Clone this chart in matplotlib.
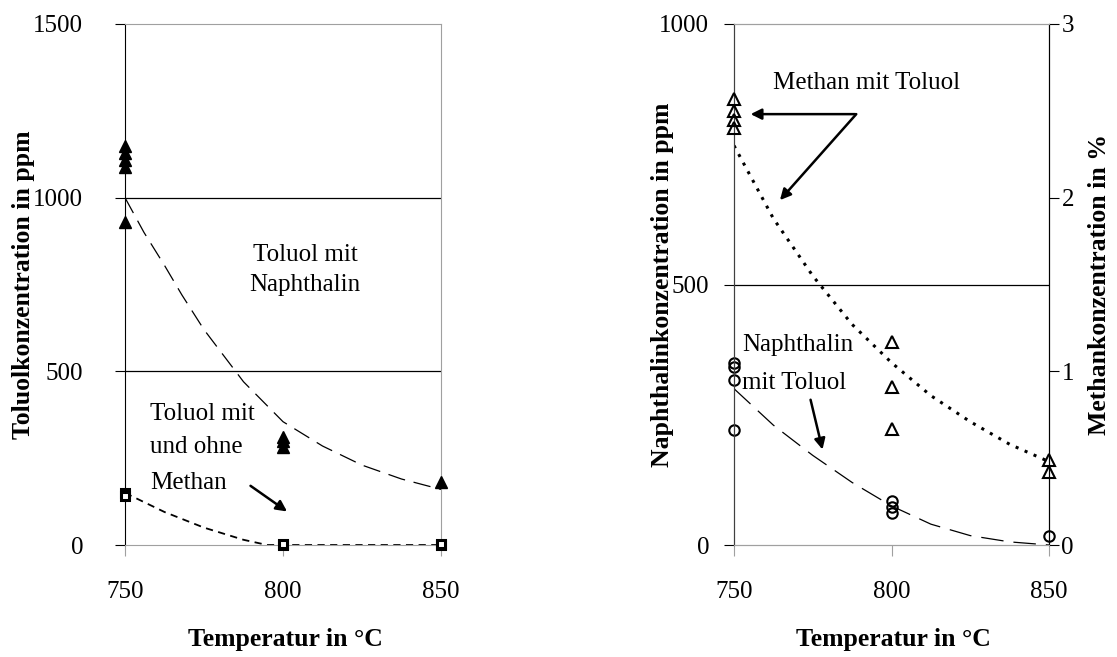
import matplotlib
matplotlib.use("Agg")
import matplotlib.pyplot as plt

plt.rcParams['font.family'] = ['Liberation Serif', 'DejaVu Serif']

# left panel: Toluol
tol_naph_x = [750, 750, 750, 750, 750, 800, 800, 800, 850]
tol_naph_y = [1150, 1130, 1108, 1088, 930, 310, 298, 282, 180]
tol_meth_x = [750, 750, 800, 800, 850, 850]
tol_meth_y = [150, 140, 0, 2, 0, 2]
trend_naph_x = [750, 756, 762.5, 768, 775, 787.5, 800, 812.5, 825, 837.5, 850]
trend_naph_y = [1000, 900, 805, 720, 620, 470, 355, 285, 230, 190, 160]
trend_meth_x = [750, 762.5, 775, 787.5, 795, 800, 825, 850]
trend_meth_y = [150, 95, 50, 15, 0, 0, 0, 0]

# right panel: Naphthalin (ppm) and Methan (%)
naph_x = [750, 750, 750, 750, 800, 800, 800, 850]
naph_y = [349, 342, 317, 221, 85, 72, 62, 18]
meth_x = [750, 750, 750, 750, 800, 800, 800, 850, 850]
meth_y = [2.57, 2.50, 2.45, 2.40, 1.17, 0.91, 0.67, 0.49, 0.42]
trend_n_x = [750, 762.5, 775, 787.5, 800, 812.5, 825, 837.5, 850]
trend_n_y = [300, 230, 172, 120, 75, 40, 18, 6, 0]
trend_m_x = [750, 762.5, 775, 787.5, 800, 812.5, 825, 837.5, 850]
trend_m_y = [2.30, 1.88, 1.55, 1.27, 1.05, 0.86, 0.71, 0.58, 0.48]

xticks = [750, 800, 850]
fs = 18
lfs = 18.5
frame = '#a0a0a0'

fig = plt.figure(figsize=(11.17, 6.57), dpi=100)
ax1 = fig.add_axes([125/1117, 112/657, 316/1117, 521/657])
ax2 = fig.add_axes([734/1117, 112/657, 315/1117, 521/657])
ax3 = ax2.twinx()

# ---- left
ax1.axhline(500, color='black', lw=0.9, zorder=1)
ax1.axhline(1000, color='black', lw=0.9, zorder=1)
ax1.plot(trend_naph_x, trend_naph_y, color='black', lw=0.9, ls=(0, (14, 7)), zorder=2)
ax1.plot(trend_meth_x, trend_meth_y, color='black', lw=1.3, ls=(0, (4, 3)), zorder=2)
ax1.plot(tol_naph_x, tol_naph_y, ls='none', marker='^', ms=9, color='black', zorder=3, clip_on=False)
ax1.plot(tol_meth_x, tol_meth_y, ls='none', marker='s', ms=6, mfc='white', mec='black', mew=2.2,
         zorder=3, clip_on=False)
ax1.set_xlim(750, 850)
ax1.set_ylim(0, 1500)
ax1.set_xticks(xticks)
ax1.set_yticks([0, 500, 1000, 1500])
ax1.tick_params(axis='y', direction='out', length=7, pad=23, labelsize=fs)
ax1.tick_params(axis='x', direction='out', length=8, pad=18, labelsize=fs, color=frame)
for s in ['top', 'right', 'bottom']:
    ax1.spines[s].set_color(frame)
ax1.spines['left'].set_color('black')
ax1.set_ylabel('Toluolkonzentration in ppm', fontsize=lfs, fontweight='bold')
ax1.yaxis.set_label_coords(-0.285, 0.5)
ax1.set_xlabel('Temperatur in °C', fontsize=lfs, fontweight='bold')
ax1.xaxis.set_label_coords(0.506, -0.159)

ax1.text(807, 835, 'Toluol mit', fontsize=fs, ha='center', va='center')
ax1.text(807, 750, 'Naphthalin', fontsize=fs, ha='center', va='center')
ax1.text(758, 377, 'Toluol mit', fontsize=fs, ha='left', va='center')
ax1.text(758, 282, 'und ohne', fontsize=fs, ha='left', va='center')
ax1.text(758, 178, 'Methan', fontsize=fs, ha='left', va='center')
ax1.annotate('', xy=(802, 92), xytext=(789, 175),
             arrowprops=dict(arrowstyle='-|>', color='black', lw=1.8, mutation_scale=16))

# ---- right
ax2.axhline(500, color='black', lw=0.9, zorder=1)
ax2.plot(trend_n_x, trend_n_y, color='black', lw=0.9, ls=(0, (18, 8)), zorder=2)
ax2.plot(naph_x, naph_y, ls='none', marker='o', ms=7.5, mfc='none', mec='black', mew=1.5,
         zorder=3, clip_on=False)
ax3.plot(trend_m_x, trend_m_y, color='black', lw=2.2, ls=(0, (1, 2.2)), zorder=2)
ax3.plot(meth_x, meth_y, ls='none', marker='^', ms=9, mfc='none', mec='black', mew=1.5,
         zorder=3, clip_on=False)
ax2.set_xlim(750, 850)
ax2.set_ylim(0, 1000)
ax3.set_ylim(0, 3)
ax2.set_xticks(xticks)
ax2.set_yticks([0, 500, 1000])
ax3.set_yticks([0, 1, 2, 3])
ax2.tick_params(axis='y', direction='out', length=7, pad=11, labelsize=fs)
ax2.tick_params(axis='x', direction='out', length=8, pad=18, labelsize=fs, color=frame)
ax3.tick_params(axis='y', direction='out', length=7, pad=2, labelsize=fs)
for a in (ax2, ax3):
    a.spines['top'].set_color(frame)
    a.spines['bottom'].set_color(frame)
    a.spines['left'].set_color('#404040')
    a.spines['right'].set_color('black')
ax2.set_ylabel('Naphthalinkonzentration in ppm', fontsize=lfs, fontweight='bold')
ax2.yaxis.set_label_coords(-0.19, 0.5)
ax3.set_ylabel('Methankonzentration in %', fontsize=lfs, fontweight='bold')
ax3.yaxis.set_label_coords(1.124, 0.5)
ax2.set_xlabel('Temperatur in °C', fontsize=lfs, fontweight='bold')
ax2.xaxis.set_label_coords(0.505, -0.159)

ax2.text(762.4, 887, 'Methan mit Toluol', fontsize=fs, ha='left', va='center')
ax2.text(752.5, 384, 'Naphthalin', fontsize=fs, ha='left', va='center')
ax2.text(752.5, 311, 'mit Toluol', fontsize=fs, ha='left', va='center')
ax2.annotate('', xy=(754.4, 827), xytext=(789.4, 827),
             arrowprops=dict(arrowstyle='-|>', color='black', lw=1.8, mutation_scale=16))
ax2.annotate('', xy=(764, 658), xytext=(789.4, 831),
             arrowprops=dict(arrowstyle='-|>', color='black', lw=1.8, mutation_scale=16))
ax2.annotate('', xy=(778.3, 178), xytext=(774.1, 284),
             arrowprops=dict(arrowstyle='-|>', color='black', lw=1.8, mutation_scale=16))

fig.savefig('out.png', dpi=100)
